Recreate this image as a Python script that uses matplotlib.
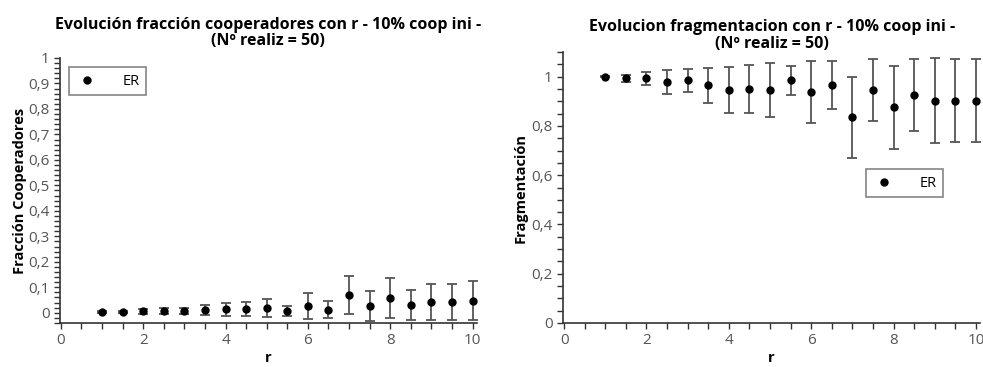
import matplotlib
matplotlib.use("Agg")
from matplotlib import pyplot as plt
from matplotlib.lines import Line2D
from matplotlib.ticker import MultipleLocator, FuncFormatter

plt.rcParams['font.family'] = ['Open Sans', 'DejaVu Sans']

r = [1, 1.5, 2, 2.5, 3, 3.5, 4, 4.5, 5, 5.5, 6, 6.5, 7, 7.5, 8, 8.5, 9, 9.5, 10]

# fraccion de cooperadores (ER)
coop = [0.004, 0.004, 0.005, 0.008, 0.008, 0.012, 0.014, 0.016, 0.020, 0.008,
        0.027, 0.012, 0.069, 0.027, 0.058, 0.031, 0.042, 0.042, 0.047]
coop_err = [0.003, 0.003, 0.010, 0.011, 0.011, 0.019, 0.025, 0.028, 0.035, 0.019,
            0.050, 0.033, 0.075, 0.059, 0.080, 0.060, 0.071, 0.071, 0.076]

# fragmentacion (ER)
frag = [1.000, 0.993, 0.993, 0.978, 0.985, 0.966, 0.946, 0.949, 0.946, 0.985,
        0.938, 0.966, 0.835, 0.946, 0.876, 0.927, 0.903, 0.903, 0.903]
frag_err = [0.003, 0.016, 0.026, 0.049, 0.045, 0.071, 0.095, 0.097, 0.108, 0.060,
            0.127, 0.097, 0.164, 0.125, 0.168, 0.146, 0.172, 0.170, 0.170]

tick_gray = '#555555'
spine_gray = '#333333'


def comma(v, pos):
    s = ('%.2f' % v).rstrip('0').rstrip('.')
    if s == '-0':
        s = '0'
    return s.replace('.', ',')


def style_axes(ax, ymajor, yminor):
    for side in ['top', 'right']:
        ax.spines[side].set_visible(False)
    for side in ['left', 'bottom']:
        ax.spines[side].set_color(spine_gray)
        ax.spines[side].set_linewidth(1.2)
    ax.xaxis.set_major_locator(MultipleLocator(2))
    ax.xaxis.set_minor_locator(MultipleLocator(0.5))
    ax.yaxis.set_major_locator(MultipleLocator(ymajor))
    ax.yaxis.set_minor_locator(MultipleLocator(yminor))
    ax.xaxis.set_major_formatter(FuncFormatter(comma))
    ax.yaxis.set_major_formatter(FuncFormatter(comma))
    ax.tick_params(which='both', direction='out', length=4, width=1,
                   color=spine_gray, labelcolor=tick_gray, labelsize=11)
    ax.set_xlabel('r', fontsize=10.5, fontweight='bold', labelpad=2)


def add_legend(ax, anchor):
    h = Line2D([], [], marker='o', linestyle='none', color='black', markersize=5)
    leg = ax.legend([h], ['ER'], loc='upper left', bbox_to_anchor=anchor,
                    borderaxespad=0, fancybox=False, edgecolor='#666666',
                    fontsize=10.5, handletextpad=1.6, borderpad=0.45,
                    handlelength=1.6)
    leg.get_frame().set_linewidth(1.2)


fig = plt.figure(figsize=(9.83, 3.67), dpi=100)

ax1 = fig.add_axes([0.061, 0.12, 0.424, 0.722])
ax1.errorbar(r, coop, yerr=coop_err, fmt='o', color='black', markersize=5,
             ecolor='#555555', elinewidth=1.3, capsize=3.5, capthick=1.3)
ax1.set_xlim(-0.02, 10.1)
ax1.set_ylim(-0.04, 1.0)
style_axes(ax1, 0.1, 0.02)
ax1.set_ylabel('Fracción Cooperadores', fontsize=10.5, fontweight='bold', labelpad=1)
ax1.set_title('Evolución fracción cooperadores con r - 10% coop ini -\n(Nº realiz = 50)',
              fontsize=11.5, fontweight='bold', pad=9, linespacing=1.05)
add_legend(ax1, (0.022, 0.965))

ax2 = fig.add_axes([0.573, 0.12, 0.424, 0.738])
ax2.errorbar(r, frag, yerr=frag_err, fmt='o', color='black', markersize=5,
             ecolor='#555555', elinewidth=1.3, capsize=3.5, capthick=1.3)
ax2.set_xlim(-0.02, 10.1)
ax2.set_ylim(0, 1.1)
style_axes(ax2, 0.2, 0.05)
ax2.set_ylabel('Fragmentación', fontsize=10.5, fontweight='bold', labelpad=3)
ax2.set_title('Evolucion fragmentacion con r - 10% coop ini -\n(Nº realiz = 50)',
              fontsize=11.5, fontweight='bold', pad=3, linespacing=1.05)
add_legend(ax2, (0.727, 0.568))

fig.savefig('out.png', dpi=100)
